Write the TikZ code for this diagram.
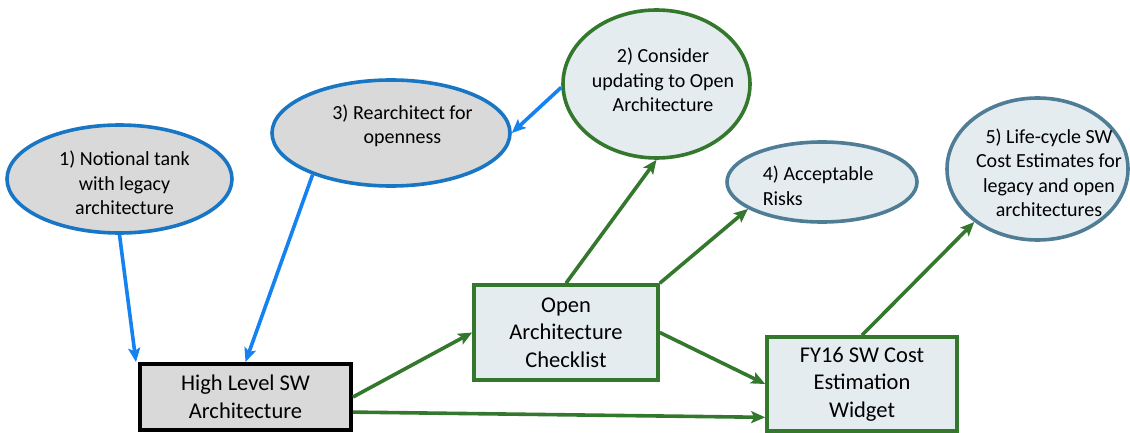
\documentclass[tikz,border=0pt]{standalone}
\usepackage{fontspec}
\setmainfont{Carlito}
\usetikzlibrary{arrows.meta, shapes.geometric}

\definecolor{linkblue}{RGB}{20,130,240}
\definecolor{ovalblue}{RGB}{24,118,196}
\definecolor{boxgreen}{RGB}{52,120,46}
\definecolor{steel}{RGB}{80,125,150}
\definecolor{palefill}{RGB}{228,236,240}
\definecolor{greyfill}{RGB}{217,217,217}

\begin{document}
\begin{tikzpicture}[x=1pt,y=-1pt,->,>={Stealth[length=14pt,width=12pt,inset=3pt]},line width=3.6pt,
  blue oval/.style={ellipse,draw=ovalblue,fill=greyfill,inner sep=0pt},
  green oval/.style={ellipse,draw=boxgreen,fill=palefill,inner sep=0pt},
  steel oval/.style={ellipse,draw=steel,fill=palefill,inner sep=0pt},
  oval text/.style={align=center,inner sep=0pt,font=\fontsize{20}{24.5}\selectfont},
  main box/.style={rectangle,draw=black,line width=4pt,fill=greyfill,align=center,inner sep=0pt,font=\fontsize{22.5}{27.5}\selectfont},
  green box/.style={rectangle,draw=boxgreen,fill=palefill,align=center,inner sep=0pt,font=\fontsize{22.5}{27.5}\selectfont}]

  \useasboundingbox (0,0) rectangle (1130,433);

  % ovals
  \node[blue oval, minimum width=225pt, minimum height=108pt] (1) at (119.5,179) {};
  \node[green oval, minimum width=187pt, minimum height=148pt] (2) at (656.5,84) {};
  \node[blue oval, minimum width=238pt, minimum height=106pt] (3) at (391,133) {};
  \node[steel oval, minimum width=190pt, minimum height=80pt] (4) at (822,182) {};
  \node[steel oval, minimum width=181pt, minimum height=142pt] (5) at (1037.5,169) {};

  \node[oval text] (1t) at ([shift={(5,4)}]1.center) {1) Notional tank\\with legacy\\architecture};
  \node[oval text] (2t) at ([shift={(6.5,-4)}]2.center) {2) Consider\\updating to Open\\Architecture};
  \node[oval text] (3t) at ([shift={(11.5,-7)}]3.center) {3) Rearchitect for\\openness};
  \node[oval text, align=left, anchor=west] (4t) at (761,186) {4) Acceptable\\Risks};
  \node[oval text] (5t) at ([shift={(11.5,4)}]5.center) {5) Life-cycle SW\\Cost Estimates for\\legacy and open\\architectures};

  % boxes
  \node[main box, minimum width=211pt, minimum height=66pt] (HL) at (245.5,397) {High Level SW\\Architecture};
  \node[green box, minimum width=184pt, minimum height=95pt] (OA) at (566,332.5) {Open\\Architecture\\Checklist};
  \node[green box, minimum width=190pt, minimum height=94pt] (FY) at (862,384) {FY16 SW Cost\\Estimation\\Widget};

  \path[color=linkblue]
       (1.south) edge ([xshift=-2pt]HL.north west)
       (3.208) edge (HL.north)
       (2.182) edge (3.east);

  \path[color=boxgreen]
       (HL.east) edge (OA.west)
       (HL.-8) edge (FY.199)
       (OA.north) edge (2.south)
       (OA.north east) edge (4.200)
       (OA.east) edge (FY.west)
       (FY.north) edge (5.220);
\end{tikzpicture}
\end{document}
